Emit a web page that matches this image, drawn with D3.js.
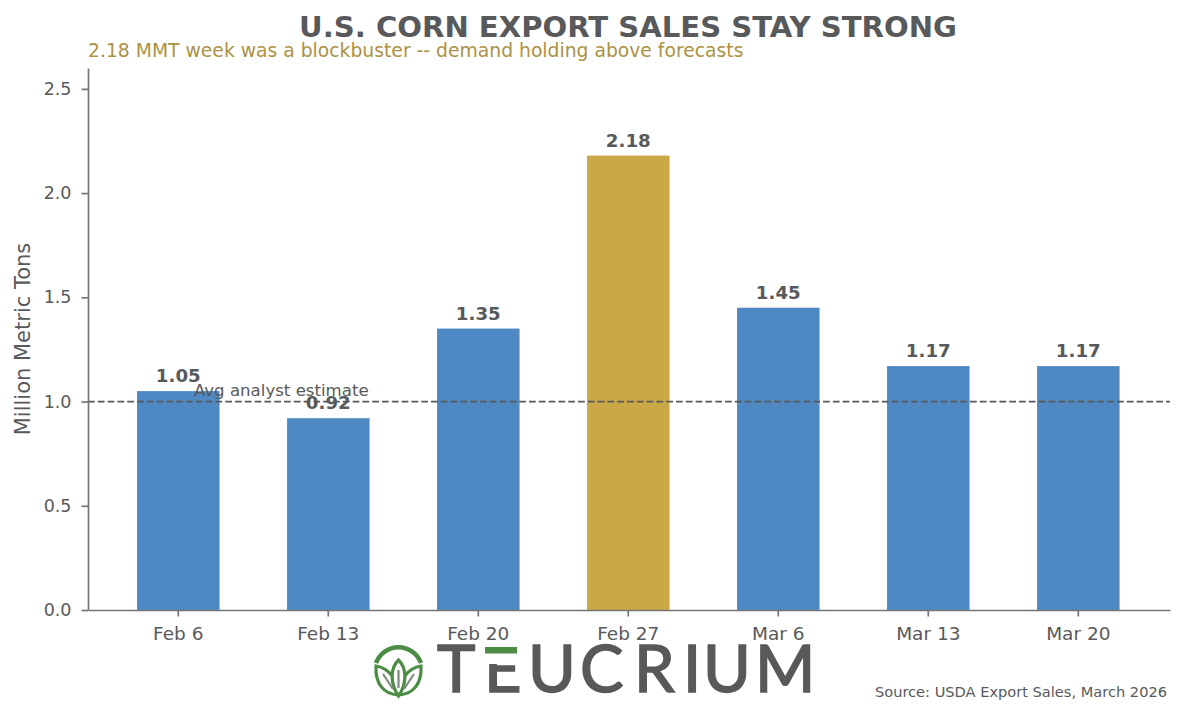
<!DOCTYPE html>
<html>
<head>
<meta charset="utf-8">
<script src="https://cdnjs.cloudflare.com/ajax/libs/d3/7.8.5/d3.min.js"></script>
<style>
html, body { margin: 0; padding: 0; background: #fff; }
text { font-family: "DejaVu Sans", sans-serif; }
</style>
</head>
<body>
<svg id="chart" width="1183" height="715"></svg>
<script>
'use strict';

var weeks = ['Feb 6', 'Feb 13', 'Feb 20', 'Feb 27', 'Mar 6', 'Mar 13', 'Mar 20'];
var sales = [1.05, 0.92, 1.35, 2.18, 1.45, 1.17, 1.17];
var yTicks = [0, 0.5, 1, 1.5, 2, 2.5];
var avgEstimate = 1.0;
var peakWeek = 'Feb 27';

var ink = '#58595b';
var axisInk = '#757577';
var blue = '#4e89c4';
var gold = '#cba847';
var subGold = '#ab9245';
var green = '#4c8c45';

var margin = { top: 68, right: 13, bottom: 105, left: 88 };
var width = 1183, height = 715;

var svg = d3.select('#chart');

var x = d3.scaleBand()
    .domain(weeks)
    .range([margin.left, width - margin.right])
    .paddingInner(0.45)
    .paddingOuter(0.3317)
    .align(0.493);

var y = d3.scaleLinear()
    .domain([0, 2.6])
    .range([height - margin.bottom, margin.top]);

// bars
svg.append('g')
    .selectAll('rect')
    .data(weeks)
    .enter()
    .append('rect')
    .attr('x', function (d) { return x(d); })
    .attr('y', function (d, i) { return y(sales[i]); })
    .attr('width', x.bandwidth())
    .attr('height', function (d, i) { return y(0) - y(sales[i]); })
    .attr('fill', function (d) { return d === peakWeek ? gold : blue; });

// analyst line
svg.append('line')
    .attr('x1', margin.left)
    .attr('x2', width - margin.right)
    .attr('y1', y(avgEstimate))
    .attr('y2', y(avgEstimate))
    .attr('stroke', ink)
    .attr('stroke-width', 1.7)
    .attr('stroke-dasharray', '6.8 3');

svg.append('text')
    .attr('x', x('Feb 13') + x.bandwidth() / 2 - 47)
    .attr('y', y(avgEstimate) - 6)
    .attr('text-anchor', 'middle')
    .attr('font-size', 16.6)
    .attr('fill', ink)
    .text('Avg analyst estimate');

// value labels
svg.append('g')
    .selectAll('text')
    .data(weeks)
    .enter()
    .append('text')
    .attr('x', function (d) { return x(d) + x.bandwidth() / 2; })
    .attr('y', function (d, i) { return y(sales[i]) - 9; })
    .attr('text-anchor', 'middle')
    .attr('font-size', 18.2)
    .attr('font-weight', 'bold')
    .attr('fill', ink)
    .text(function (d, i) { return sales[i].toFixed(2); });

// axes
var yAxis = svg.append('g')
    .attr('transform', 'translate(' + margin.left + ',0)')
    .call(d3.axisLeft(y).tickValues(yTicks).tickFormat(d3.format('.1f')).tickSize(6.5).tickSizeOuter(0).tickPadding(10));

var xAxis = svg.append('g')
    .attr('transform', 'translate(0,' + y(0) + ')')
    .call(d3.axisBottom(x).tickSize(6.5).tickSizeOuter(0).tickPadding(10));

[yAxis, xAxis].forEach(function (axis) {
    axis.selectAll('path, line').attr('stroke', axisInk).attr('stroke-width', 1.7);
    axis.selectAll('text').attr('fill', ink).attr('font-size', 18.5);
});
yAxis.selectAll('text').attr('font-size', 17.5);

svg.append('text')
    .attr('transform', 'translate(30,' + ((y(0) + y(2.6)) / 2) + ') rotate(-90)')
    .attr('text-anchor', 'middle')
    .attr('font-size', 21)
    .attr('fill', ink)
    .text('Million Metric Tons');

// titles
svg.append('text')
    .attr('x', 628)
    .attr('y', 37)
    .attr('text-anchor', 'middle')
    .attr('font-size', 29.1)
    .attr('font-weight', 'bold')
    .attr('fill', ink)
    .text('U.S. CORN EXPORT SALES STAY STRONG');

svg.append('text')
    .attr('x', 88)
    .attr('y', 57)
    .attr('font-size', 18.75)
    .attr('fill', subGold)
    .text('2.18 MMT week was a blockbuster -- demand holding above forecasts');

svg.append('text')
    .attr('x', 1167)
    .attr('y', 697)
    .attr('text-anchor', 'end')
    .attr('font-size', 14.6)
    .attr('fill', ink)
    .text('Source: USDA Export Sales, March 2026');

// logo
var logo = svg.append('g');

logo.append('path')
    .attr('d', 'M376,663 A24,24 0 0 1 421,663')
    .attr('fill', 'none')
    .attr('stroke', green)
    .attr('stroke-width', 4.5);

var leaves = [
    'M376,666 C389,668 398,680 398,695 C384,694 375,684 376,666 Z',
    'M421,666 C408,668 399,680 399,695 C413,694 422,684 421,666 Z',
    'M398.5,660 C407,668 407,684 398.5,696 C390,684 390,668 398.5,660 Z'
];
logo.selectAll('path.leaf')
    .data(leaves)
    .enter()
    .append('path')
    .attr('class', 'leaf')
    .attr('d', function (d) { return d; })
    .attr('fill', '#fff')
    .attr('stroke', green)
    .attr('stroke-width', 3.2);

logo.append('path')
    .attr('d', 'M383,674 L393,689 M414,674 L404,689 M398.5,670 L398.5,688')
    .attr('fill', 'none')
    .attr('stroke', '#7d8a80')
    .attr('stroke-width', 2.2);

logo.append('text')
    .attr('x', '437 484 528 580 634 683 703 755')
    .attr('y', 692)
    .attr('font-size', 65)
    .attr('fill', ink)
    .attr('stroke', ink)
    .attr('stroke-width', 1.6)
    .style('font-family', 'Lato')
    .text('TEUCRIUM');

// the E's top is replaced by a green bar
logo.append('rect')
    .attr('x', 483)
    .attr('y', 640)
    .attr('width', 39)
    .attr('height', 24)
    .attr('fill', '#fff');
logo.append('rect')
    .attr('x', 485)
    .attr('y', 647)
    .attr('width', 32)
    .attr('height', 6.5)
    .attr('fill', green);
</script>
</body>
</html>
